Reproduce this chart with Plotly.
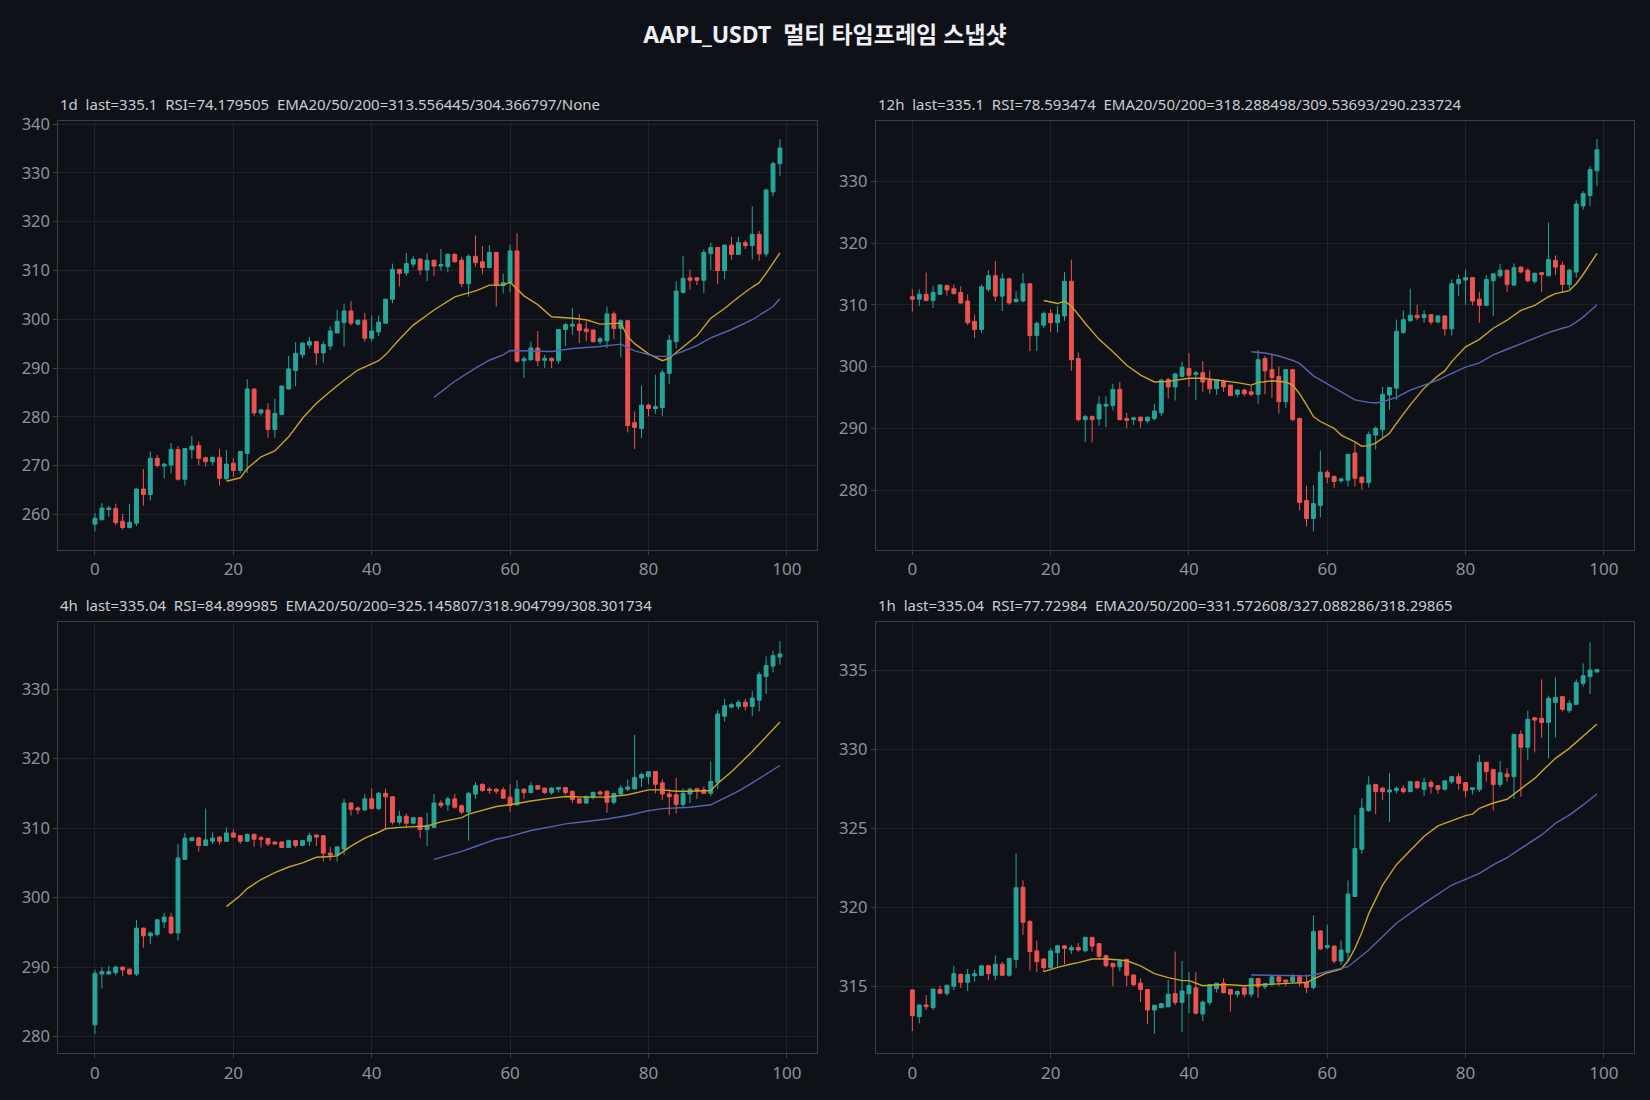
import plotly.graph_objects as go
from plotly.subplots import make_subplots

TITLE = "AAPL_USDT  멀티 타임프레임 스냅샷"
SUBTITLES = [
    "1d  last=335.1  RSI=74.179505  EMA20/50/200=313.556445/304.366797/None",
    "12h  last=335.1  RSI=78.593474  EMA20/50/200=318.288498/309.53693/290.233724",
    "4h  last=335.04  RSI=84.899985  EMA20/50/200=325.145807/318.904799/308.301734",
    "1h  last=335.04  RSI=77.72984  EMA20/50/200=331.572608/327.088286/318.29865",
]

# ---------------- 1d ----------------
d1_open = [258.0,258.9,261.0,261.2,258.6,257.3,258.2,265.2,264.1,271.5,269.9,270.1,273.3,267.2,273.3,274.1,271.6,270.8,271.7,267.3,
           270.5,269.0,272.5,285.7,280.8,281.4,277.4,280.5,285.7,289.5,292.7,294.7,295.4,293.1,294.5,297.2,299.3,301.7,299.0,299.8,
           296.1,297.4,299.2,304.1,310.2,309.5,311.3,312.3,310.1,312.1,310.9,310.8,313.3,312.1,307.3,312.9,311.8,310.6,313.7,306.9,
           307.5,314.0,291.5,291.7,294.1,291.6,292.0,291.5,297.9,298.6,299.0,298.0,297.8,295.4,295.6,301.1,298.1,299.7,278.8,277.6,
           282.4,281.7,281.9,288.9,295.4,305.5,308.5,308.5,308.0,313.5,314.7,310.0,315.2,313.3,315.7,315.1,317.4,313.4,326.1,331.9]
d1_high = [260.3,262.3,261.8,262.2,260.1,262.2,265.3,269.3,272.9,272.2,270.6,274.6,274.0,273.6,276.1,274.9,271.8,271.8,273.4,273.2,
           271.5,273.0,287.7,285.8,281.7,282.8,283.7,286.4,292.5,295.3,295.3,296.4,295.5,295.4,298.6,301.9,303.2,303.7,299.9,301.3,
           300.8,300.8,304.2,311.4,310.3,313.6,313.0,312.6,313.5,312.2,314.4,313.5,313.5,312.8,313.3,317.2,315.0,315.2,313.8,309.4,
           315.3,317.6,292.4,295.4,297.6,292.7,292.1,298.0,299.2,302.3,301.1,299.6,297.9,296.4,302.6,301.6,300.0,299.8,281.1,286.4,
           282.7,288.6,289.6,296.8,307.8,313.0,310.2,308.6,314.3,315.7,314.8,315.3,316.9,316.9,316.2,323.1,318.1,326.8,332.3,336.9]
d1_low = [256.5,258.8,259.5,257.8,256.9,257.1,257.6,261.8,262.8,269.6,267.4,268.4,266.9,265.9,271.4,270.1,269.8,270.1,265.9,267.1,
          267.7,268.5,268.5,280.2,280.3,275.7,275.7,280.4,285.6,286.3,292.0,294.0,290.6,291.1,293.7,297.1,294.4,298.7,298.7,295.4,
          295.4,296.5,299.1,303.3,306.7,308.9,310.6,309.1,307.8,308.9,309.9,309.6,311.6,306.6,304.6,310.8,309.2,310.4,302.6,305.3,
          305.5,291.1,288.0,291.5,290.4,290.0,290.0,290.9,294.5,296.8,295.1,295.5,295.2,294.8,294.1,295.9,292.2,276.8,273.4,275.7,
          280.1,280.6,280.2,286.7,294.0,305.3,306.1,307.0,305.4,310.1,307.2,308.2,312.2,313.2,314.4,312.2,312.0,312.8,325.2,329.4]
d1_close = [259.2,261.3,261.3,258.3,257.3,258.4,265.2,264.1,271.5,270.0,270.3,273.3,267.2,273.5,274.0,271.5,270.8,271.7,267.4,270.3,
            269.0,272.9,285.7,280.8,281.4,277.4,280.7,286.3,289.8,293.0,295.1,295.4,293.1,294.8,297.6,299.6,301.7,299.2,299.8,296.1,
            297.6,299.4,304.1,310.2,309.4,311.4,312.3,310.1,312.1,310.9,311.2,313.3,311.8,307.3,312.9,311.6,310.6,313.7,306.9,307.5,
            314.0,291.4,291.9,294.1,291.5,292.0,291.5,297.9,298.9,299.0,297.7,297.5,295.4,296.0,301.1,298.1,299.7,278.2,277.8,282.4,
            281.7,282.1,289.1,295.7,305.8,308.4,308.0,308.0,313.7,314.7,310.0,315.2,313.3,315.7,315.1,317.4,313.4,326.5,331.9,335.1]
d1_ema20_x = [19,21,22,24,26,28,30,32,34,36,38,41,42,44,46,49,52,53,55,56,57,59,60,61,62,64,66,69,71,73,76,77,78,80,82,83,84,87,89,91,93,95,96,97,99]
d1_ema20_y = [266.8,267.5,269.4,271.8,273.0,275.9,279.7,282.8,285.2,287.5,289.6,291.5,292.7,295.9,298.8,301.9,304.6,305.0,305.8,306.4,
              307.0,307.0,307.6,306.2,304.8,303.0,300.5,300.2,299.9,299.0,299.2,296.4,295.0,292.9,291.5,292.0,293.2,296.6,300.2,302.2,
              304.5,306.6,307.5,309.4,313.6]
d1_ema50_x = [49,52,55,57,59,60,63,66,69,73,76,78,81,83,85,87,89,92,95,96,98,99]
d1_ema50_y = [284.0,287.3,290.0,291.6,292.7,293.6,293.5,293.4,294.0,294.4,294.9,293.5,292.4,292.4,293.4,294.6,296.2,297.9,299.9,300.8,302.6,304.2]

# ---------------- 12h ----------------
h12_open = [311.3,310.9,311.7,310.7,311.7,313.1,312.6,312.0,310.6,307.3,306.0,312.5,314.7,311.4,314.2,310.5,310.6,313.4,305.0,306.7,
            308.6,307.1,308.2,313.8,301.3,291.4,291.9,291.5,293.6,293.7,296.3,291.6,291.4,291.8,291.2,291.6,292.5,297.9,296.7,298.4,
            299.7,298.7,299.0,297.9,296.4,297.6,297.0,295.5,296.2,295.9,295.5,301.3,299.5,298.4,294.3,299.5,291.6,278.3,275.4,277.5,
            282.9,282.2,281.5,281.6,286.0,282.1,281.2,288.9,289.8,295.4,296.5,305.5,307.4,308.3,307.9,308.4,307.2,308.2,306.1,313.4,
            314.0,314.4,310.9,309.9,313.9,314.7,315.6,313.2,316.1,315.6,313.8,315.2,314.7,317.2,316.4,313.3,315.3,326.0,327.7,331.7]
h12_high = [312.5,312.5,315.2,313.0,313.3,313.3,313.3,313.0,311.7,308.4,313.3,315.6,317.1,315.1,314.4,312.2,315.1,313.5,307.3,308.9,
            309.3,309.8,315.3,317.3,302.3,292.2,292.1,295.2,295.2,297.2,297.5,292.5,291.9,291.9,291.9,293.9,298.0,298.2,299.0,300.8,
            302.2,299.3,300.9,299.4,298.0,297.9,297.0,296.3,296.4,296.9,302.7,301.7,302.1,300.0,299.6,299.6,291.7,280.7,280.8,286.4,
            283.2,282.4,282.0,285.8,287.6,282.1,289.5,290.3,296.7,296.7,307.6,309.1,312.6,310.0,309.1,308.5,308.3,308.3,314.1,314.9,
            315.7,314.5,312.1,314.8,315.1,316.6,315.7,316.7,316.2,315.9,315.2,315.3,323.3,318.0,317.0,315.8,326.9,328.4,332.4,336.8]
h12_low = [308.9,309.8,310.6,309.5,311.6,311.5,311.7,310.2,306.7,304.6,305.5,312.1,310.6,309.0,310.0,310.4,310.4,302.5,302.5,306.2,
           305.6,305.5,307.4,299.3,291.1,287.8,287.7,290.4,290.2,292.9,291.3,290.0,290.5,290.1,290.9,291.3,292.0,294.8,294.5,298.2,
           296.7,294.6,295.9,295.6,295.4,295.9,295.3,295.0,295.2,295.2,294.0,295.5,294.9,292.4,293.3,291.1,276.7,274.1,273.3,275.6,
           281.1,280.3,281.2,280.6,280.6,280.1,280.4,286.6,288.6,293.0,294.6,305.3,307.3,307.5,307.1,306.8,307.1,305.0,305.0,311.4,
           310.0,309.9,307.1,309.8,308.2,314.4,312.1,313.1,315.1,313.6,313.4,312.1,314.6,314.8,312.0,312.6,314.4,325.4,326.0,329.2]
h12_close = [310.9,311.7,310.7,312.0,313.2,312.4,311.8,310.3,307.1,306.0,312.9,314.7,311.4,314.2,310.3,310.9,313.4,305.0,307.0,308.6,
             307.1,308.4,313.8,301.1,291.4,291.9,291.4,293.9,293.9,296.3,291.4,291.3,291.7,291.2,291.8,292.8,297.8,296.7,298.8,299.9,
             298.6,299.0,297.5,296.4,297.9,296.7,295.3,296.2,295.6,295.5,301.1,299.3,298.2,294.3,299.5,291.4,278.0,275.4,277.8,282.9,
             282.1,281.4,281.8,285.8,281.9,281.2,289.0,290.0,295.5,296.6,305.7,307.6,308.3,307.9,308.4,307.2,308.2,306.1,313.4,314.1,
             314.4,310.6,309.9,314.1,315.0,315.6,313.3,316.0,315.3,313.9,315.1,314.9,317.3,316.1,313.3,315.6,326.3,328.0,331.9,335.1]
h12_ema20_x = [19,21,22,23,25,27,29,31,33,35,37,40,42,45,47,49,50,52,54,55,56,57,58,59,61,62,63,64,65,66,67,68,69,70,72,74,76,77,78,80,
               82,84,86,88,90,92,93,95,96,97,98,99]
h12_ema20_y = [310.7,310.2,310.6,309.8,307.0,304.4,302.4,300.2,298.6,297.5,297.6,298.1,298.1,297.7,297.4,297.0,297.4,297.7,297.5,297.0,
               295.6,293.8,291.9,291.1,290.0,288.9,288.4,287.8,287.1,287.2,287.6,288.4,289.2,290.8,293.8,296.5,298.5,299.3,300.8,303.2,
               304.4,306.2,307.5,309.1,309.9,311.3,311.8,312.3,313.4,314.9,316.6,318.3]
h12_ema50_x = [49,51,53,55,56,58,60,62,64,66,67,68,70,72,74,76,78,80,82,84,86,88,90,92,94,95,96,97,98,99]
h12_ema50_y = [302.4,302.2,301.7,301.0,300.5,298.5,297.2,295.9,294.6,294.2,294.1,294.3,295.0,296.2,297.0,297.8,298.9,299.9,300.6,301.9,
               302.8,303.7,304.5,305.5,306.2,306.5,307.2,308.0,309.0,310.0]

# ---------------- 4h ----------------
h4_open = [281.7,289.0,289.0,289.2,290.0,289.7,289.0,295.6,294.5,294.7,296.5,297.2,294.9,305.5,308.2,308.6,307.5,308.1,308.7,308.1,
           309.3,308.9,308.1,309.1,308.6,308.5,308.0,308.0,307.2,308.2,307.5,308.1,309.0,308.9,306.4,306.1,307.0,313.6,312.9,312.6,
           314.2,312.8,315.0,314.5,310.85,311.7,310.7,311.5,309.8,310.1,313.6,313.35,314.2,313.2,312.3,314.9,316.3,315.6,315.6,315.5,
           314.45,313.35,315.6,315.1,316.1,315.75,315.1,315.6,315.85,315.3,314.2,313.6,314.45,315.2,315.3,313.7,314.9,315.6,315.65,317.2,
           317.4,318.15,316.5,314.9,314.8,313.4,314.9,315.65,315.5,315.0,316.6,326.1,327.4,327.5,328.1,327.5,328.4,331.8,333.3,334.6]
h4_high = [289.6,290.0,290.2,290.2,290.1,289.8,296.8,295.7,295.1,296.9,297.8,297.8,307.7,309.3,308.7,308.7,312.8,309.4,308.8,310.1,
           309.8,309.0,309.2,309.2,308.9,308.6,308.1,308.1,308.3,308.3,308.3,309.3,309.1,309.0,307.3,307.3,314.2,313.7,313.1,314.9,
           315.7,315.2,315.7,314.6,312.5,312.1,311.5,311.6,312.2,314.9,314.0,314.5,314.9,313.4,315.2,316.6,316.4,315.9,315.7,315.9,
           316.3,316.9,315.7,316.6,316.2,315.8,315.9,315.9,315.9,315.4,314.3,314.7,315.2,315.4,315.4,315.0,316.2,317.0,323.4,318.0,
           318.1,318.2,317.0,315.6,317.2,315.7,315.8,315.8,316.0,319.6,327.0,328.6,328.0,328.4,328.6,329.7,332.5,334.7,335.5,336.9]
h4_low = [280.4,286.9,288.9,288.8,288.7,288.9,288.7,292.8,293.3,294.4,295.6,294.7,293.8,305.4,308.1,306.6,307.4,307.7,307.6,308.0,
          308.6,307.7,308.0,307.3,307.2,307.4,307.6,307.1,307.1,307.2,307.4,307.4,307.4,305.2,305.3,305.2,306.1,311.8,312.0,312.5,
          312.7,312.6,310.0,310.5,310.5,310.1,310.5,308.6,307.4,310.0,312.9,312.5,312.8,312.0,308.2,314.2,315.2,314.9,314.9,314.2,
          312.3,313.2,314.2,315.0,315.7,314.9,314.8,315.1,314.8,313.6,313.5,313.5,314.1,314.7,312.2,313.4,314.8,315.3,315.5,315.9,
          316.3,315.0,314.0,311.9,312.1,312.9,313.6,314.2,315.0,314.6,315.6,325.3,327.2,327.1,326.9,326.1,326.8,329.3,332.4,333.5]
h4_close = [289.1,289.35,289.35,290.0,289.6,289.0,295.6,294.5,294.9,296.8,297.2,294.9,305.7,308.55,308.6,307.5,308.3,308.55,308.1,309.3,
            308.7,308.1,309.1,308.4,308.4,307.7,307.7,307.2,308.2,307.5,308.2,308.9,308.7,306.4,306.1,307.3,313.6,312.7,312.6,314.2,
            312.8,315.0,314.5,310.85,311.7,310.7,311.5,309.8,310.4,313.6,313.25,314.2,313.0,312.3,315.0,316.1,315.4,315.4,315.3,314.3,
            313.25,315.6,315.1,316.1,315.6,315.1,315.75,315.85,315.1,314.1,313.6,314.55,315.15,314.9,313.7,315.0,315.75,315.9,317.3,317.7,
            318.1,316.3,314.9,314.5,313.4,315.0,315.6,315.35,315.0,316.7,326.4,327.6,327.75,328.1,327.5,328.7,332.1,333.4,334.8,335.04]
h4_ema20_x = [19,21,22,24,26,28,30,32,34,35,37,39,41,42,44,46,48,50,53,54,56,58,60,63,66,68,71,74,77,79,80,82,84,86,89,90,92,95,97,99]
h4_ema20_y = [298.7,300.3,301.3,302.6,303.6,304.4,305.0,305.8,305.9,306.0,307.4,308.55,309.4,309.9,310.1,310.2,310.3,310.9,311.5,312.0,
              312.6,313.1,313.35,313.9,314.3,314.55,314.45,314.45,314.8,315.3,315.5,315.5,315.3,315.3,315.4,316.4,318.1,321.0,323.2,325.25]
h4_ema50_x = [49,53,55,58,60,63,66,68,71,74,77,80,82,84,86,89,91,93,95,97,99]
h4_ema50_y = [305.5,306.65,307.35,308.4,308.8,309.65,310.2,310.6,310.95,311.3,311.8,312.5,312.8,312.9,313.0,313.35,314.3,315.3,316.5,317.7,319.0]

# ---------------- 1h ----------------
h1_open = [314.77,313.08,313.82,313.65,314.8,314.55,315.0,315.75,315.25,315.67,315.7,316.3,315.7,316.4,315.7,316.7,321.27,319.1,317.24,316.73,
           316.18,317.13,317.56,317.3,317.45,317.25,318.1,317.7,316.94,316.45,316.24,316.7,315.72,315.2,314.8,313.5,313.65,313.7,314.54,313.98,
           314.53,314.9,313.25,313.97,314.85,315.2,314.8,314.5,314.9,314.5,315.5,314.97,315.1,315.6,315.4,315.3,315.6,315.25,314.93,318.5,
           317.45,317.55,316.6,317.15,320.68,323.67,326.12,327.78,327.53,327.3,327.4,327.53,327.32,327.95,327.47,327.9,327.7,327.47,327.95,328.27,
           327.9,327.45,327.47,329.18,328.73,327.78,328.44,328.27,330.95,330.13,332.0,331.96,331.7,332.97,333.33,332.45,332.85,334.18,334.6,334.9]
h1_high = [314.8,313.85,314.45,314.85,315.05,315.1,316.3,315.8,316.1,316.05,316.35,316.35,316.95,316.55,316.77,323.4,321.7,319.2,317.9,316.75,
           317.4,317.6,317.6,317.6,317.75,318.1,318.1,317.7,317.0,316.45,316.7,316.75,315.72,315.5,314.8,313.5,313.95,315.4,317.2,316.6,
           315.9,315.9,314.1,315.1,315.2,315.5,314.8,314.75,315.0,315.55,315.5,315.18,315.7,315.6,315.4,315.8,315.75,315.75,319.5,318.55,
           318.9,317.55,317.9,321.7,325.84,326.9,328.3,327.8,327.65,328.5,327.65,327.75,327.95,327.95,328.2,328.05,327.7,328.05,328.3,328.5,
           327.9,327.57,329.64,329.2,328.75,329.26,328.8,330.95,331.2,332.45,332.05,334.43,333.4,334.56,333.35,333.1,334.43,335.44,336.77,335.1]
h1_low = [312.17,312.66,313.5,313.5,314.5,314.4,314.75,314.9,314.7,315.3,315.65,315.4,315.4,315.65,315.6,316.14,318.25,316.0,315.9,315.9,
          316.07,316.25,316.4,317.05,317.2,317.15,317.2,316.7,316.2,315.0,315.95,315.0,315.0,314.0,312.6,312.0,313.6,313.7,313.8,312.1,
          313.3,313.2,312.8,313.8,314.6,314.55,313.4,314.3,314.3,314.3,314.27,314.82,315.05,315.0,315.0,315.2,315.0,314.57,314.8,317.3,
          317.35,316.45,316.35,316.56,320.68,323.38,326.05,325.9,326.8,325.4,327.2,327.2,327.3,327.47,327.05,327.2,327.2,327.4,327.8,327.45,
          326.96,327.15,327.3,327.95,326.12,327.6,327.95,326.86,327.0,329.3,329.8,330.74,329.43,330.76,332.4,332.3,332.8,333.97,333.5,334.85]
h1_close = [313.14,313.82,313.71,314.83,314.56,315.06,315.8,315.25,315.75,315.8,316.3,315.8,316.4,315.7,316.77,321.24,319.05,317.2,316.56,316.18,
            317.24,317.56,317.4,317.45,317.3,318.1,317.55,316.9,316.31,316.24,316.6,315.7,315.1,314.8,313.5,313.8,313.9,314.5,313.98,314.7,
            315.05,313.3,314.0,315.1,315.2,314.6,314.5,314.67,314.5,315.5,314.97,315.18,315.6,315.3,315.27,315.6,315.25,314.93,318.46,317.36,
            317.58,316.6,317.3,320.84,323.73,326.27,327.74,327.32,327.32,327.43,327.53,327.32,327.95,327.57,327.9,327.64,327.47,328.0,328.27,327.85,
            327.38,327.57,329.18,328.59,327.78,328.52,328.27,330.95,330.13,331.9,331.85,331.7,333.23,333.29,332.53,332.91,334.22,334.66,335.02,335.04]
h1_ema20_x = [19,21,23,24,26,28,30,31,33,35,37,39,40,41,42,44,46,48,50,52,55,57,58,60,62,63,64,65,66,68,70,72,74,76,78,80,81,82,84,86,
              88,90,91,92,93,95,97,99]
h1_ema20_y = [315.93,316.2,316.41,316.5,316.73,316.73,316.67,316.62,316.3,315.8,315.55,315.36,315.36,315.2,315.04,315.1,315.1,315.04,315.1,315.14,
              315.2,315.24,315.45,315.86,316.08,316.6,317.4,318.4,319.6,321.4,322.7,323.6,324.5,325.15,325.5,325.8,325.9,326.27,326.6,326.84,
              327.5,328.16,328.59,329.0,329.43,330.06,330.8,331.6]
h1_ema50_x = [49,52,55,57,58,60,63,66,70,74,78,80,82,84,86,88,91,93,95,97,99]
h1_ema50_y = [315.72,315.7,315.68,315.66,315.72,315.93,316.24,317.3,318.99,320.25,321.41,321.77,322.15,322.68,323.14,323.73,324.58,325.32,325.84,326.48,327.17]

X_TICKS = [0, 20, 40, 60, 80, 100]
Y_TICKS = [
    [260, 270, 280, 290, 300, 310, 320, 330, 340],
    [280, 290, 300, 310, 320, 330],
    [280, 290, 300, 310, 320, 330],
    [315, 320, 325, 330, 335],
]
Y_RANGES = [[252.7, 340.7], [270.3, 339.8], [277.6, 339.6], [310.76, 338.04]]

panels = [
    (d1_open, d1_high, d1_low, d1_close, d1_ema20_x, d1_ema20_y, d1_ema50_x, d1_ema50_y),
    (h12_open, h12_high, h12_low, h12_close, h12_ema20_x, h12_ema20_y, h12_ema50_x, h12_ema50_y),
    (h4_open, h4_high, h4_low, h4_close, h4_ema20_x, h4_ema20_y, h4_ema50_x, h4_ema50_y),
    (h1_open, h1_high, h1_low, h1_close, h1_ema20_x, h1_ema20_y, h1_ema50_x, h1_ema50_y),
]

BG = "#0e1118"
UP = "#26a69a"
DN = "#ef5350"
GOLD = "#c9a227"
BLUE = "#5565b0"
GRID = "#1d222b"
FRAME = "#3a3f48"
TICKC = "#8d939d"
FONT = "Noto Sans, Noto Sans CJK KR, sans-serif"


def keep_spaces(s):
    # SVG collapses runs of spaces; keep the double gaps visible
    return s.replace("  ", " \u00a0")


fig = make_subplots(rows=2, cols=2)
W, H = 1650, 1100
x_doms = [[58.3 / W, 817.3 / W], [875.7 / W, 1634.3 / W]]
y_doms = [[1 - 550.0 / H, 1 - 120.7 / H], [1 - 1053.3 / H, 1 - 622.3 / H]]

for k, (o, h, l, c, e20x, e20y, e50x, e50y) in enumerate(panels):
    r, cc = k // 2 + 1, k % 2 + 1
    xs = list(range(len(o)))
    fig.add_trace(go.Candlestick(
        x=xs, open=o, high=h, low=l, close=c,
        increasing=dict(line=dict(color=UP, width=1), fillcolor=UP),
        decreasing=dict(line=dict(color=DN, width=1), fillcolor=DN),
        whiskerwidth=0, showlegend=False, hoverinfo="skip"), row=r, col=cc)
    fig.add_trace(go.Scatter(x=e20x, y=e20y, mode="lines", line=dict(color=GOLD, width=1.4),
                             showlegend=False, hoverinfo="skip"), row=r, col=cc)
    fig.add_trace(go.Scatter(x=e50x, y=e50y, mode="lines", line=dict(color=BLUE, width=1.4),
                             showlegend=False, hoverinfo="skip"), row=r, col=cc)
    xd = x_doms[cc - 1]
    yd = y_doms[r - 1]
    fig.update_xaxes(domain=xd, range=[-5.3, 104.4], tickvals=X_TICKS, rangeslider_visible=False,
                     showgrid=True, gridcolor=GRID, gridwidth=1, zeroline=False, automargin=False,
                     showline=True, mirror=True, linecolor=FRAME, linewidth=1,
                     ticks="outside", ticklen=4, tickcolor=FRAME,
                     tickfont=dict(family=FONT, size=17, color=TICKC), row=r, col=cc)
    fig.update_yaxes(domain=yd, range=Y_RANGES[k], tickvals=Y_TICKS[k],
                     showgrid=True, gridcolor=GRID, gridwidth=1, zeroline=False, automargin=False,
                     showline=True, mirror=True, linecolor=FRAME, linewidth=1,
                     ticks="outside", ticklen=4, tickcolor=FRAME,
                     tickfont=dict(family=FONT, size=16.5, color=TICKC), row=r, col=cc)
    fig.add_annotation(text=keep_spaces(SUBTITLES[k]), xref="paper", yref="paper", x=xd[0], y=yd[1],
                       xanchor="left", yanchor="bottom", yshift=5, showarrow=False,
                       font=dict(family=FONT, size=15, color="#c8ccd2"))

fig.update_layout(
    width=W, height=H, margin=dict(l=0, r=0, t=0, b=0, autoexpand=False),
    paper_bgcolor=BG, plot_bgcolor=BG, boxgap=0.2,
    title=dict(text=keep_spaces(TITLE), x=0.5, xanchor="center", y=1 - 35 / H, yanchor="middle",
               yref="container", automargin=False,
               font=dict(family=FONT, size=23, color="#eef0f3", weight="bold")),
    hovermode=False,
)

fig.write_html("out.html")
